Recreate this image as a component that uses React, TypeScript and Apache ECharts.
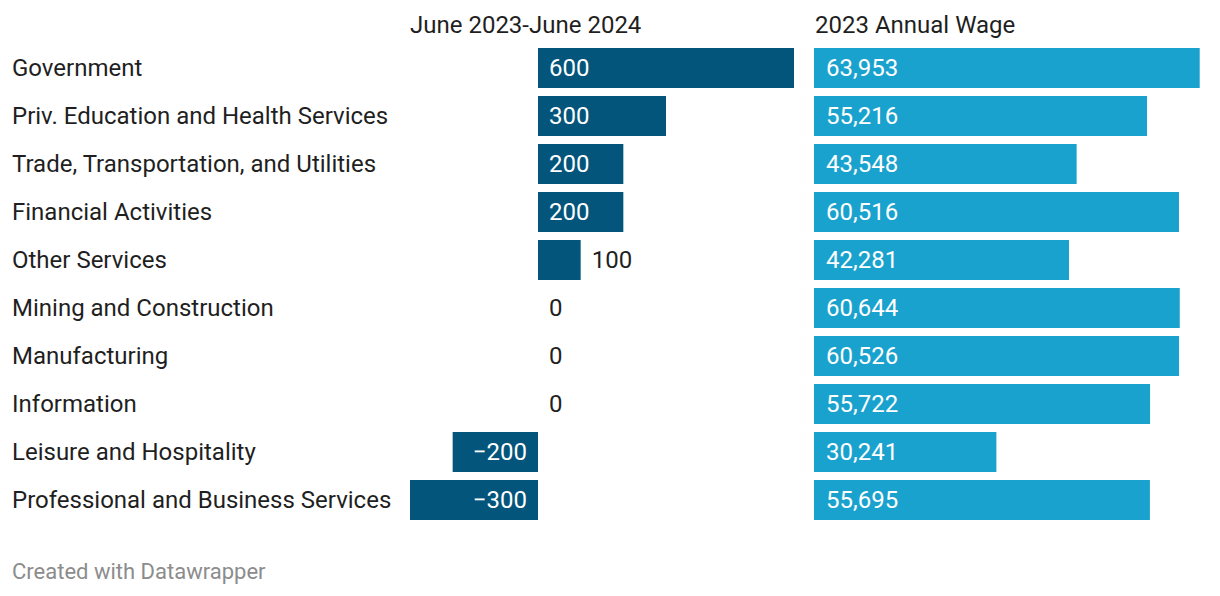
import React, { useEffect, useRef } from "react";
import * as echarts from "echarts";

const categories = [
  "Government",
  "Priv. Education and Health Services",
  "Trade, Transportation, and Utilities",
  "Financial Activities",
  "Other Services",
  "Mining and Construction",
  "Manufacturing",
  "Information",
  "Leisure and Hospitality",
  "Professional and Business Services",
];
const jobChange = [600, 300, 200, 200, 100, 0, 0, 0, -200, -300];
const annualWage = [63953, 55216, 43548, 60516, 42281, 60644, 60526, 55722, 30241, 55695];
const titleChange = "June 2023-June 2024";
const titleWage = "2023 Annual Wage";
const footer = "Created with Datawrapper";

const DARK = "#03557b";
const LIGHT = "#1aa2ce";
const TEXT = "#1f1f1f";
const FONT = "Roboto, 'Noto Sans', sans-serif";
const FS = 24;

const fmtChange = (v: number) => (v < 0 ? "\u2212" + Math.abs(v) : String(v));
const fmtWage = (v: number) => v.toLocaleString("en-US");

export default function App() {
  const ref = useRef<HTMLDivElement>(null);
  useEffect(() => {
    if (!ref.current) return;
    const chart = echarts.init(ref.current, undefined, { renderer: "svg" });
    const changeData = jobChange.map((v) => {
      let label: any;
      if (v > 100) {
        label = { position: "insideLeft", distance: 11, color: "#ffffff" };
      } else if (v < 0) {
        label = { position: "insideRight", distance: 11, color: "#ffffff" };
      } else {
        label = { position: "right", distance: 11, color: TEXT };
      }
      return { value: v, label };
    });
    const rowTop = 44;
    const rowH = 48 * categories.length;
    chart.setOption({
      animation: false,
      textStyle: { fontFamily: FONT },
      title: [
        {
          text: titleChange,
          left: 410,
          top: 13,
          padding: 0,
          textStyle: { fontSize: FS, fontWeight: "normal", color: TEXT, fontFamily: FONT },
        },
        {
          text: titleWage,
          left: 815,
          top: 13,
          padding: 0,
          textStyle: { fontSize: FS, fontWeight: "normal", color: TEXT, fontFamily: FONT },
        },
        {
          text: footer,
          left: 12,
          top: 560,
          padding: 0,
          textStyle: { fontSize: 22, fontWeight: "normal", color: "#8c8c8c", fontFamily: FONT },
        },
      ],
      grid: [
        { left: 410, width: 384, top: rowTop, height: rowH },
        { left: 814, width: 386, top: rowTop, height: rowH },
      ],
      xAxis: [
        { gridIndex: 0, type: "value", min: -300, max: 600, show: false },
        { gridIndex: 1, type: "value", min: 0, max: 64000, show: false },
      ],
      yAxis: [
        {
          gridIndex: 0,
          type: "category",
          data: categories,
          inverse: true,
          axisLine: { show: false, onZero: false },
          axisTick: { show: false },
          splitLine: { show: false },
          axisLabel: {
            align: "left",
            margin: 398,
            fontSize: FS,
            color: TEXT,
            fontFamily: FONT,
          },
        },
        { gridIndex: 1, type: "category", data: categories, inverse: true, show: false },
      ],
      series: [
        {
          type: "bar",
          xAxisIndex: 0,
          yAxisIndex: 0,
          data: changeData,
          barWidth: 40,
          itemStyle: { color: DARK },
          label: {
            show: true,
            fontSize: FS,
            fontFamily: FONT,
            formatter: (p: any) => fmtChange(p.value),
          },
        },
        {
          type: "bar",
          xAxisIndex: 1,
          yAxisIndex: 1,
          data: annualWage,
          barWidth: 40,
          itemStyle: { color: LIGHT },
          label: {
            show: true,
            position: "insideLeft",
            distance: 12,
            color: "#ffffff",
            fontSize: FS,
            fontFamily: FONT,
            formatter: (p: any) => fmtWage(p.value),
          },
        },
      ],
    });
    return () => chart.dispose();
  }, []);
  return (
    <div
      ref={ref}
      style={{ position: "fixed", left: 0, top: 0, width: 1220, height: 596, background: "#ffffff" }}
    />
  );
}
